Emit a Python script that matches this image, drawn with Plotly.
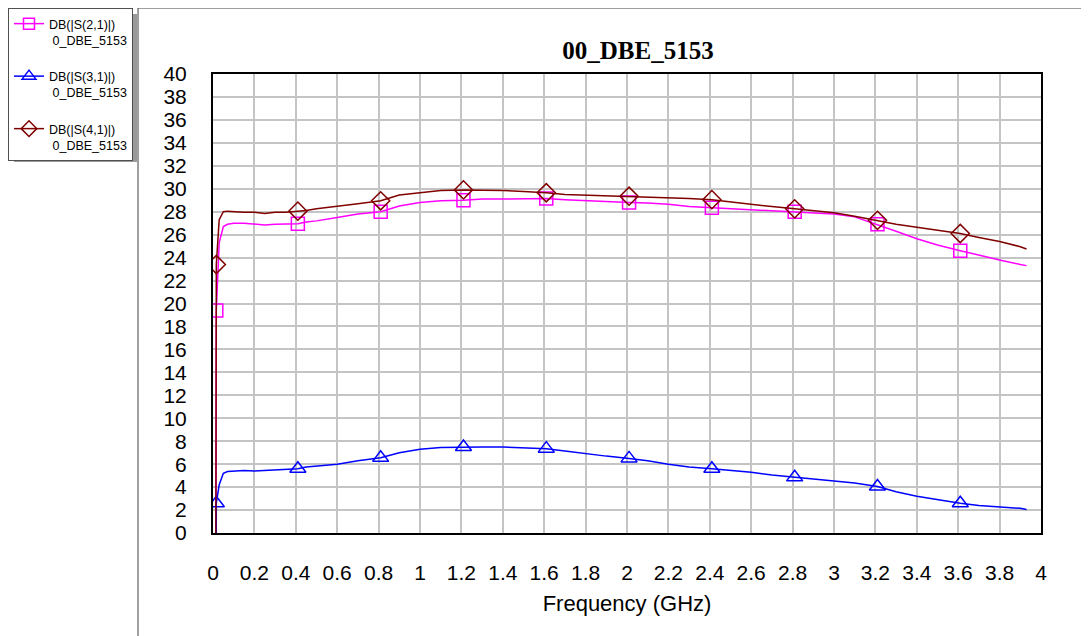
import plotly.graph_objects as go

# ---------------- data ----------------
freq = [0.012, 0.016, 0.03, 0.05, 0.07, 0.1, 0.15, 0.2, 0.25, 0.3, 0.35, 0.41, 0.45, 0.5,
        0.6, 0.7, 0.81, 0.9, 1.0, 1.1, 1.21, 1.3, 1.4, 1.5, 1.61, 1.7, 1.8, 1.9, 2.01,
        2.1, 2.2, 2.3, 2.41, 2.5, 2.6, 2.7, 2.81, 2.9, 3.0, 3.1, 3.21, 3.3, 3.4, 3.5,
        3.61, 3.7, 3.8, 3.9, 3.93]

s21 = [-30, 19.4, 25.3, 26.7, 26.9, 27.0, 27.0, 26.95, 26.85, 26.9, 26.9, 26.95, 27.1, 27.2,
       27.5, 27.8, 28.0, 28.5, 28.8, 28.95, 29.0, 29.1, 29.1, 29.1, 29.15, 29.05, 28.95, 28.9, 28.8,
       28.75, 28.65, 28.45, 28.35, 28.3, 28.2, 28.1, 28.0, 27.9, 27.8, 27.55, 26.9, 26.3, 25.65, 25.1,
       24.6, 24.2, 23.8, 23.4, 23.3]

s31 = [-40, 2.6, 4.2, 5.2, 5.35, 5.4, 5.45, 5.4, 5.45, 5.45, 5.5, 5.6, 5.75, 5.85,
       6.0, 6.3, 6.55, 7.0, 7.3, 7.45, 7.5, 7.5, 7.5, 7.45, 7.35, 7.15, 6.9, 6.7, 6.5,
       6.3, 6.0, 5.75, 5.6, 5.45, 5.3, 5.05, 4.85, 4.7, 4.55, 4.35, 4.05, 3.6, 3.2, 2.9,
       2.6, 2.4, 2.3, 2.15, 2.05]

s41 = [-20, 23.4, 27.3, 28.0, 28.05, 28.0, 27.95, 27.95, 27.85, 27.95, 27.95, 28.05, 28.1, 28.25,
       28.5, 28.7, 28.95, 29.45, 29.65, 29.85, 29.9, 29.9, 29.85, 29.75, 29.65, 29.5, 29.45, 29.4, 29.35,
       29.25, 29.2, 29.15, 29.05, 28.85, 28.65, 28.45, 28.25, 28.1, 27.9, 27.6, 27.25, 26.9, 26.65, 26.4,
       26.1, 25.75, 25.4, 24.95, 24.75]

marker_freqs = [0.016, 0.41, 0.81, 1.21, 1.61, 2.01, 2.41, 2.81, 3.21, 3.61]

series_names = ["DB(|S(2,1)|)", "DB(|S(3,1)|)", "DB(|S(4,1)|)"]
sub_name = "0_DBE_5153"
title_text = "00_DBE_5153"
x_ticks = [0, 0.2, 0.4, 0.6, 0.8, 1, 1.2, 1.4, 1.6, 1.8, 2, 2.2, 2.4, 2.6, 2.8, 3, 3.2, 3.4, 3.6, 3.8, 4]
y_ticks = list(range(0, 41, 2))

# ---------------- layout geometry (page pixels) ----------------
PAGE_W, PAGE_H = 1089, 636
OFF = 8                      # body margin of the html page
W, H = PAGE_W - OFF, PAGE_H - OFF
PL, PR, PT, PB = 213, 1041, 74, 533   # plot box in page pixels
ML, MT = PL - OFF, PT - OFF
MR, MB = PAGE_W - PR, PAGE_H - PB
PW, PH = PR - PL, PB - PT

def px_x(p):
    return (p - PL) / PW

def px_y(p):
    return (PB - p) / PH

styles = [
    dict(color="#ff00ff", symbol="square-open", size=13),
    dict(color="#0000ff", symbol="triangle-up-open", size=14),
    dict(color="#800000", symbol="diamond-open", size=14),
]

fig = go.Figure()
idx = [freq.index(f) for f in marker_freqs]
for name, ys, st, g in zip(series_names, [s21, s31, s41], styles, ["a", "b", "c"]):
    fig.add_trace(go.Scatter(x=freq, y=ys, mode="lines", line=dict(color=st["color"], width=1.5),
                             showlegend=False, hoverinfo="skip", cliponaxis=True))
    fig.add_trace(go.Scatter(x=[freq[i] for i in idx], y=[ys[i] for i in idx], mode="markers",
                             marker=dict(symbol=st["symbol"], size=st["size"], color=st["color"],
                                         line=dict(color=st["color"], width=1.5)),
                             showlegend=False, cliponaxis=True))
    fig.add_trace(go.Scatter(x=[None], y=[None], mode="lines+markers",
                             name=name + "<br>\u00a0" + sub_name, legendgroup=g,
                             line=dict(color=st["color"], width=1.5),
                             marker=dict(symbol=st["symbol"], size=st["size"] - 2, color=st["color"],
                                         line=dict(color=st["color"], width=1.5))))

shapes = [
    # legend shadow
    dict(type="rect", xref="paper", yref="paper", x0=px_x(14), x1=px_x(137), y0=px_y(14), y1=px_y(162),
         fillcolor="#9a9a9a", line=dict(width=0), layer="below"),
    # outer graph frame
    dict(type="line", xref="paper", yref="paper", x0=px_x(138), x1=px_x(138), y0=px_y(8), y1=px_y(PAGE_H),
         line=dict(color="#404040", width=1)),
    dict(type="line", xref="paper", yref="paper", x0=px_x(138), x1=px_x(PAGE_W), y0=px_y(8), y1=px_y(8),
         line=dict(color="#404040", width=1)),
]

fig.update_layout(
    width=W, height=H,
    margin=dict(l=ML, r=MR, t=MT, b=MB, autoexpand=False),
    paper_bgcolor="white", plot_bgcolor="white",
    title=dict(text="<b>" + title_text + "</b>", x=(638 - OFF) / W, xanchor="center", xref="container",
               y=1 - (50 - OFF) / H, yanchor="middle", yref="container",
               font=dict(family="Liberation Serif, Times New Roman, serif", size=25, color="black")),
    font=dict(family="Liberation Sans, Arial, sans-serif", color="black"),
    legend=dict(x=0, y=1, xref="container", yref="container", xanchor="left", yanchor="top",
                bgcolor="white", bordercolor="#505050", borderwidth=1,
                font=dict(family="Liberation Sans, Arial, sans-serif", size=12.5, color="black"),
                valign="top", tracegroupgap=17, itemclick=False, itemdoubleclick=False),
    shapes=shapes,
    showlegend=True,
)

fig.update_xaxes(range=[0, 4], tickmode="array", tickvals=x_ticks, ticktext=[str(t) for t in x_ticks],
                 showgrid=True, gridcolor="#c4c4c4", gridwidth=1.5, zeroline=False,
                 showline=True, linecolor="black", linewidth=2, mirror=True, ticks="",
                 ticklabelstandoff=20, tickfont=dict(size=21), layer="below traces",
                 title=dict(text="Frequency (GHz)", font=dict(size=22), standoff=12))
fig.update_yaxes(range=[0, 40], tickmode="array", tickvals=y_ticks, ticktext=[str(t) for t in y_ticks],
                 showgrid=True, gridcolor="#c4c4c4", gridwidth=1.5, zeroline=False,
                 showline=True, linecolor="black", linewidth=2, mirror=True, ticks="",
                 ticklabelstandoff=20, tickfont=dict(size=21), layer="below traces")

fig.write_html("out.html")
